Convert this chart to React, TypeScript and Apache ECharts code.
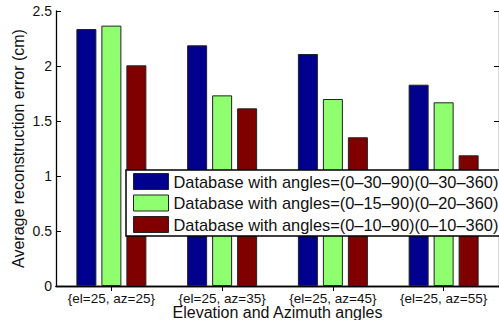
import React, { useEffect, useRef } from "react";
import * as echarts from "echarts";

const categories = ["{el=25, az=25}", "{el=25, az=35}", "{el=25, az=45}", "{el=25, az=55}"];
const seriesNames = [
  "Database with angles=(0–30–90)(0–30–360)",
  "Database with angles=(0–15–90)(0–20–360)",
  "Database with angles=(0–10–90)(0–10–360)",
];
const blueValues = [2.336, 2.188, 2.109, 1.83];
const greenValues = [2.367, 1.733, 1.7, 1.67];
const redValues = [2.006, 1.615, 1.352, 1.188];
const seriesColors = ["#00008F", "#8FFF70", "#800000"];

const FONT = "'Liberation Sans', Arial, Helvetica, sans-serif";

export default function App() {
  const ref = useRef<HTMLDivElement>(null);
  useEffect(() => {
    if (!ref.current) return;
    const chart = echarts.init(ref.current, null, { renderer: "svg" });
    const values = [blueValues, greenValues, redValues];
    const axisLine = { show: true, lineStyle: { color: "#000", width: 1.3 } };
    chart.setOption({
      animation: false,
      backgroundColor: "#fff",
      textStyle: { fontFamily: FONT },
      grid: { left: 56, right: 0, top: 11, bottom: 34, containLabel: false, outerBoundsMode: "none" },
      legend: {
        orient: "vertical",
        left: 126,
        top: 170,
        itemWidth: 35,
        itemHeight: 16,
        itemGap: 4.5,
        padding: [3, 4, 3, 7],
        backgroundColor: "#fff",
        borderColor: "#000",
        borderWidth: 1.5,
        z: 10,
        textStyle: { fontFamily: FONT, fontSize: 16.4, color: "#111" },
        data: seriesNames.map((n, i) => ({
          name: n,
          icon: "rect",
          itemStyle: { color: seriesColors[i], borderColor: "#222", borderWidth: 1 },
        })),
      },
      xAxis: [
        {
          type: "category",
          data: categories,
          position: "bottom",
          axisLine,
          axisTick: { show: true, inside: true, alignWithLabel: true, length: 5, lineStyle: { color: "#000" } },
          axisLabel: { color: "#111", fontSize: 13.5, lineHeight: 12, margin: 6, fontFamily: FONT, interval: 0 },
          name: "Elevation and Azimuth angles",
          nameLocation: "middle",
          nameGap: 20,
          nameMoveOverlap: false,
          nameTextStyle: { color: "#111", fontSize: 16, lineHeight: 13, fontFamily: FONT },
        },
        {
          type: "category",
          data: categories,
          position: "top",
          axisLine,
          axisTick: { show: true, inside: true, alignWithLabel: true, length: 5, lineStyle: { color: "#000" } },
          axisLabel: { show: false },
        },
      ],
      yAxis: [
        {
          type: "value",
          min: 0,
          max: 2.5,
          interval: 0.5,
          position: "left",
          axisLine,
          splitLine: { show: false },
          axisTick: { show: true, inside: true, length: 5, lineStyle: { color: "#000" } },
          axisLabel: { color: "#111", fontSize: 14, margin: 4, fontFamily: FONT },
          name: "Average reconstruction error (cm)",
          nameLocation: "middle",
          nameGap: 30,
          nameMoveOverlap: false,
          nameTextStyle: { color: "#111", fontSize: 16, fontFamily: FONT },
        },
        {
          type: "value",
          min: 0,
          max: 2.5,
          interval: 0.5,
          position: "right",
          axisLine,
          splitLine: { show: false },
          axisTick: { show: true, inside: true, length: 5, lineStyle: { color: "#000" } },
          axisLabel: { show: false },
        },
      ],
      series: seriesNames.map((n, i) => ({
        name: n,
        type: "bar",
        xAxisIndex: 0,
        yAxisIndex: 0,
        data: values[i],
        barWidth: 20,
        barGap: "25%",
        itemStyle: { color: seriesColors[i], borderColor: "#222", borderWidth: 1 },
      })),
    });
    return () => chart.dispose();
  }, []);
  return (
    <div
      ref={ref}
      style={{ position: "absolute", left: 0, top: 0, width: 499, height: 320 }}
    />
  );
}
